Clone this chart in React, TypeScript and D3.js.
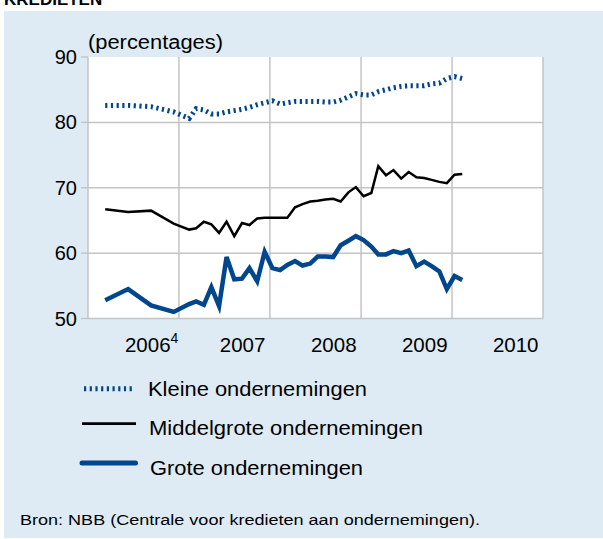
import React from "react";
import * as d3 from "d3";

// month index since January 2006
const months = [2, 5, 8, 11, 13, 14, 15, 16, 17, 18, 19, 20, 21, 22, 23, 24, 25, 26, 27, 28, 29, 30, 31, 32, 33, 34, 35, 36, 37, 38, 39, 40, 41, 42, 43, 44, 45, 46, 47, 48, 49];
const kleine = [82.6, 82.6, 82.4, 81.6, 80.6, 82.1, 81.9, 81.3, 81.3, 81.6, 81.8, 82.0, 82.3, 82.7, 83.0, 83.3, 82.8, 83.0, 83.2, 83.2, 83.2, 83.2, 83.1, 83.1, 83.4, 83.9, 84.4, 84.2, 84.2, 84.7, 85.0, 85.3, 85.5, 85.6, 85.6, 85.6, 85.9, 86.0, 86.7, 87.0, 86.7];
const middelgroot = [66.7, 66.3, 66.5, 64.5, 63.6, 63.8, 64.8, 64.4, 63.1, 64.8, 62.6, 64.6, 64.3, 65.3, 65.4, 65.4, 65.4, 65.4, 67.0, 67.5, 67.9, 68.0, 68.2, 68.3, 67.9, 69.3, 70.1, 68.7, 69.2, 73.3, 71.9, 72.7, 71.4, 72.4, 71.6, 71.5, 71.2, 70.9, 70.7, 72.0, 72.1];
const groot = [52.8, 54.5, 52.0, 51.0, 52.2, 52.6, 52.1, 54.8, 51.9, 59.4, 56.0, 56.1, 57.7, 55.7, 60.2, 57.7, 57.4, 58.2, 58.8, 58.1, 58.4, 59.5, 59.5, 59.4, 61.2, 61.9, 62.6, 62.0, 61.0, 59.8, 59.8, 60.3, 60.0, 60.4, 58.0, 58.7, 58.0, 57.2, 54.5, 56.5, 55.9];
const yTicks = [50, 60, 70, 80, 90];
const years = [2006, 2007, 2008, 2009, 2010];
const yearLabels = ["2006", "2007", "2008", "2009", "2010"];
const legendLabels = ["Kleine ondernemingen", "Middelgrote ondernemingen", "Grote ondernemingen"];

const BLUE = "#00468c";
const FONT = "Liberation Sans, Arial, sans-serif";

export default function App() {
  const W = 603, H = 539;
  const left = 88, right = 543, top = 57, bottom = 318.5;
  const x = d3.scaleTime().domain([new Date(2006, 0, 1), new Date(2011, 0, 1)]).range([left, right]);
  const y = d3.scaleLinear().domain([50, 90]).range([bottom, top]);
  const date = (m: number) => new Date(2006, m, 11);
  const mk = (vals: number[]) =>
    d3.line<number>().x((_, i) => x(date(months[i]))).y((v) => y(v))(vals) || "";
  const yearX = (yr: number, f: number) => {
    const a = x(new Date(yr, 0, 1));
    const b = x(new Date(yr + 1, 0, 1));
    return a + (b - a) * f;
  };
  const grid = "#c4c4c4";
  const dash = "2.2 3.5";
  return (
    <svg width={W} height={H} style={{ position: "absolute", left: 0, top: 0 }} fontFamily={FONT}>
      <rect x={0} y={0} width={W} height={H} fill="#ffffff" />
      <text x={4} y={5} fontSize={17} fontWeight="bold" fill="#000">KREDIETEN</text>
      <rect x={4} y={11} width={W - 4} height={527} fill="#deebf5" />
      <rect x={left} y={top} width={right - left} height={bottom - top} fill="#ffffff" />
      {yTicks.filter((t) => t > 50 && t < 90).map((t) => (
        <line key={"h" + t} x1={left} x2={right} y1={y(t)} y2={y(t)} stroke={grid} strokeWidth={1.5} />
      ))}
      {years.slice(1).map((yr) => (
        <line key={"v" + yr} x1={x(new Date(yr, 0, 1))} x2={x(new Date(yr, 0, 1))} y1={top} y2={bottom} stroke={grid} strokeWidth={1.5} />
      ))}
      <line x1={right} x2={right} y1={top} y2={bottom} stroke={grid} strokeWidth={1.5} />
      <line x1={left} x2={left} y1={top} y2={bottom} stroke={grid} strokeWidth={1.5} />
      <line x1={left} x2={right} y1={bottom} y2={bottom} stroke={grid} strokeWidth={1.5} />
      {yTicks.map((t) => (
        <g key={"t" + t}>
          <line x1={left - 7} x2={left} y1={y(t)} y2={y(t)} stroke={grid} strokeWidth={1.5} />
          <text x={left - 11} y={y(t) + 7} fontSize={20} textAnchor="end" fill="#000">{t}</text>
        </g>
      ))}
      <text x={88} y={49} fontSize={20} fill="#000" textLength={135} lengthAdjust="spacingAndGlyphs">(percentages)</text>
      {years.map((yr, i) => (
        <text key={"y" + yr} x={yearX(yr, 0.7)} y={352} fontSize={20.5} textAnchor="middle" fill="#000">
          {yearLabels[i]}
          {i === 0 ? <tspan dy={-9} fontSize={14}>4</tspan> : null}
        </text>
      ))}
      <path d={mk(kleine)} fill="none" stroke={BLUE} strokeWidth={5} strokeDasharray={dash} />
      <path d={mk(middelgroot)} fill="none" stroke="#000" strokeWidth={2.5} strokeLinejoin="miter" />
      <path d={mk(groot)} fill="none" stroke={BLUE} strokeWidth={4.5} strokeLinejoin="miter" />
      {/* legend */}
      <line x1={84} x2={135} y1={388.7} y2={388.7} stroke={BLUE} strokeWidth={5} strokeDasharray={dash} />
      <text x={148} y={396} fontSize={21} fill="#000" textLength={219} lengthAdjust="spacingAndGlyphs">{legendLabels[0]}</text>
      <line x1={82} x2={136} y1={423.7} y2={423.7} stroke="#000" strokeWidth={2.8} />
      <text x={149} y={435} fontSize={21} fill="#000" textLength={274} lengthAdjust="spacingAndGlyphs">{legendLabels[1]}</text>
      <line x1={82} x2={135.5} y1={463} y2={463} stroke={BLUE} strokeWidth={5} strokeLinecap="round" />
      <text x={150} y={474.5} fontSize={21} fill="#000" textLength={213} lengthAdjust="spacingAndGlyphs">{legendLabels[2]}</text>
      <text x={20} y={524.7} fontSize={15.5} fill="#000" textLength={460} lengthAdjust="spacingAndGlyphs">Bron: NBB (Centrale voor kredieten aan ondernemingen).</text>
    </svg>
  );
}
